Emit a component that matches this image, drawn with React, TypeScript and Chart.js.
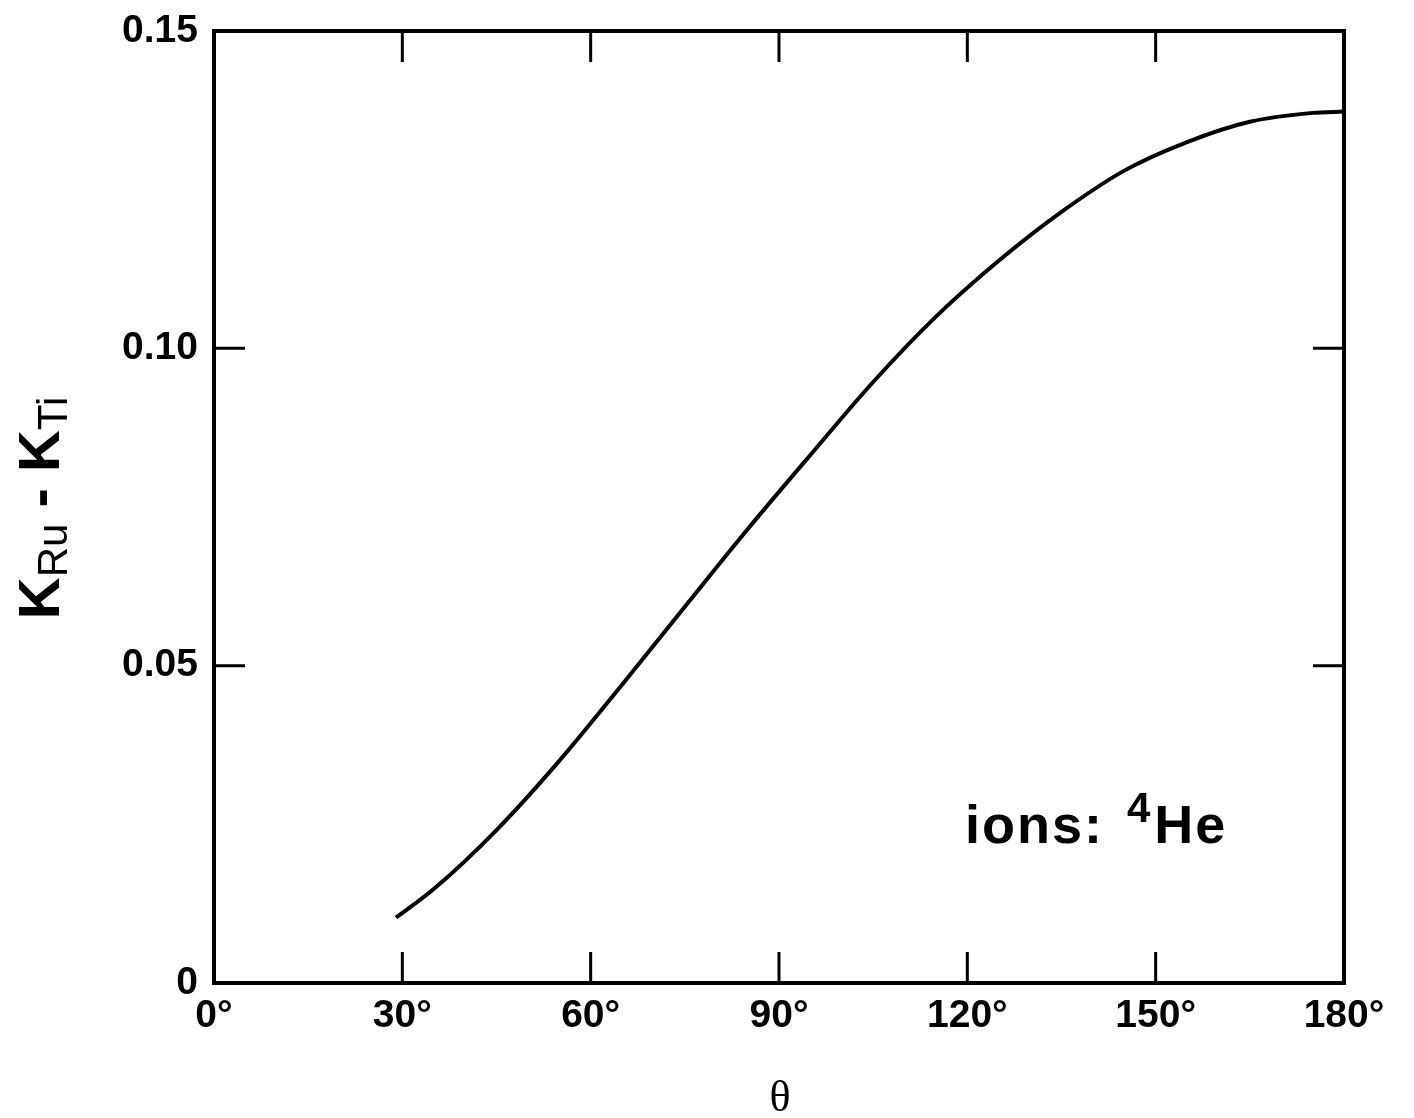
import React, { useEffect, useRef } from "react";
import { Chart, registerables } from "chart.js";

Chart.register(...registerables);

// Data (θ in degrees, K_Ru - K_Ti)
const thetaDeg = [29, 35, 45, 55, 65, 75, 85, 95, 105, 115, 125, 135, 145, 155, 165, 175, 180];
const kDiff = [0.0103, 0.0148, 0.0241, 0.035, 0.047, 0.0593, 0.0715, 0.0832, 0.0947, 0.105, 0.1138, 0.1215, 0.128, 0.1325, 0.1357, 0.1371, 0.1373];

const xTickValues = [0, 30, 60, 90, 120, 150, 180];
const yTickValues = [0, 0.05, 0.1, 0.15];
const innerXTicks = [30, 60, 90, 120, 150];
const innerYTicks = [0.05, 0.1];

const xTitle = "θ";
const yTitleMain = ["K", " - K"];
const yTitleSubs = ["Ru", "Ti"];
const noteText = "ions: ";
const noteSup = "4";
const noteElem = "He";

const SANS = '"Liberation Sans", Arial, Helvetica, sans-serif';
const SERIF = '"Liberation Serif", "Times New Roman", serif';

const framePlugin = {
  id: "framePlugin",
  afterDraw(chart: any) {
    const { ctx, chartArea, scales } = chart;
    const { left, right, top, bottom } = chartArea;
    ctx.save();
    ctx.strokeStyle = "#000";
    ctx.lineWidth = 4;
    ctx.strokeRect(left, top, right - left, bottom - top);
    ctx.lineWidth = 3;
    const tl = 31;
    innerXTicks.forEach((v) => {
      const px = scales.x.getPixelForValue(v);
      ctx.beginPath();
      ctx.moveTo(px, bottom);
      ctx.lineTo(px, bottom - tl);
      ctx.moveTo(px, top);
      ctx.lineTo(px, top + tl);
      ctx.stroke();
    });
    innerYTicks.forEach((v) => {
      const py = scales.y.getPixelForValue(v);
      ctx.beginPath();
      ctx.moveTo(left, py);
      ctx.lineTo(left + tl, py);
      ctx.moveTo(right, py);
      ctx.lineTo(right - tl, py);
      ctx.stroke();
    });

    // x-axis title
    ctx.fillStyle = "#000";
    ctx.font = `44px ${SERIF}`;
    ctx.textAlign = "center";
    ctx.textBaseline = "alphabetic";
    ctx.fillText(xTitle, 780, 1111);

    // y-axis title (rotated)
    ctx.save();
    ctx.translate(59, 508);
    ctx.rotate(-Math.PI / 2);
    const bigFont = `bold 58px ${SANS}`;
    const subFont = `42px ${SANS}`;
    const parts: [string, string, number][] = [
      [yTitleMain[0], bigFont, 0],
      [yTitleSubs[0], subFont, 8],
      [yTitleMain[1], bigFont, 0],
      [yTitleSubs[1], subFont, 8],
    ];
    let total = 0;
    parts.forEach(([t, f]) => {
      ctx.font = f;
      total += ctx.measureText(t).width;
    });
    let x = -total / 2;
    ctx.textAlign = "left";
    parts.forEach(([t, f, dy]) => {
      ctx.font = f;
      ctx.fillText(t, x, dy);
      x += ctx.measureText(t).width;
    });
    ctx.restore();

    // annotation
    ctx.textAlign = "left";
    ctx.font = `bold 54px ${SANS}`;
    (ctx as any).letterSpacing = "2px";
    let ax = 965;
    ctx.fillText(noteText, ax, 843);
    ax += ctx.measureText(noteText).width + 6;
    ctx.font = `bold 42px ${SANS}`;
    ctx.fillText(noteSup, ax, 822);
    ax += ctx.measureText(noteSup).width + 2;
    ctx.font = `bold 54px ${SANS}`;
    ctx.fillText(noteElem, ax, 843);
    ctx.restore();
  },
};

export default function App() {
  const ref = useRef<HTMLCanvasElement | null>(null);
  useEffect(() => {
    if (!ref.current) return;
    const chart = new Chart(ref.current, {
      type: "line",
      data: {
        datasets: [
          {
            data: thetaDeg.map((t, i) => ({ x: t, y: kDiff[i] })),
            borderColor: "#000",
            borderWidth: 4,
            pointRadius: 0,
            cubicInterpolationMode: "monotone",
            fill: false,
          },
        ],
      },
      options: {
        responsive: false,
        animation: false,
        layout: { padding: { left: 0, right: 70, top: 31, bottom: 0 } },
        plugins: { legend: { display: false }, tooltip: { enabled: false } },
        scales: {
          x: {
            type: "linear",
            min: 0,
            max: 180,
            afterFit: (s: any) => {
              s.height = 135;
              s.paddingLeft = 0;
              s.paddingRight = 0;
            },
            afterBuildTicks: (s: any) => {
              s.ticks = xTickValues.map((v) => ({ value: v }));
            },
            grid: { display: false, drawTicks: false },
            border: { display: false },
            ticks: {
              color: "#000",
              font: { family: SANS, size: 39, weight: "bold" },
              padding: 10,
              maxRotation: 0,
              autoSkip: false,
              callback: (v: any) => `${v}°`,
            },
          },
          y: {
            type: "linear",
            min: 0,
            max: 0.15,
            afterFit: (s: any) => {
              s.width = 214;
              s.paddingTop = 0;
              s.paddingBottom = 0;
            },
            afterBuildTicks: (s: any) => {
              s.ticks = yTickValues.map((v) => ({ value: v }));
            },
            grid: { display: false, drawTicks: false },
            border: { display: false },
            ticks: {
              color: "#000",
              font: { family: SANS, size: 39, weight: "bold" },
              padding: 16,
              callback: (v: any) => (v === 0 ? "0" : Number(v).toFixed(2)),
            },
          },
        },
      },
      plugins: [framePlugin],
    } as any);
    return () => chart.destroy();
  }, []);
  return (
    <div style={{ position: "absolute", left: 0, top: 0, width: 1414, height: 1118, background: "#fff" }}>
      <canvas ref={ref} width={1414} height={1118} style={{ display: "block" }} />
    </div>
  );
}
